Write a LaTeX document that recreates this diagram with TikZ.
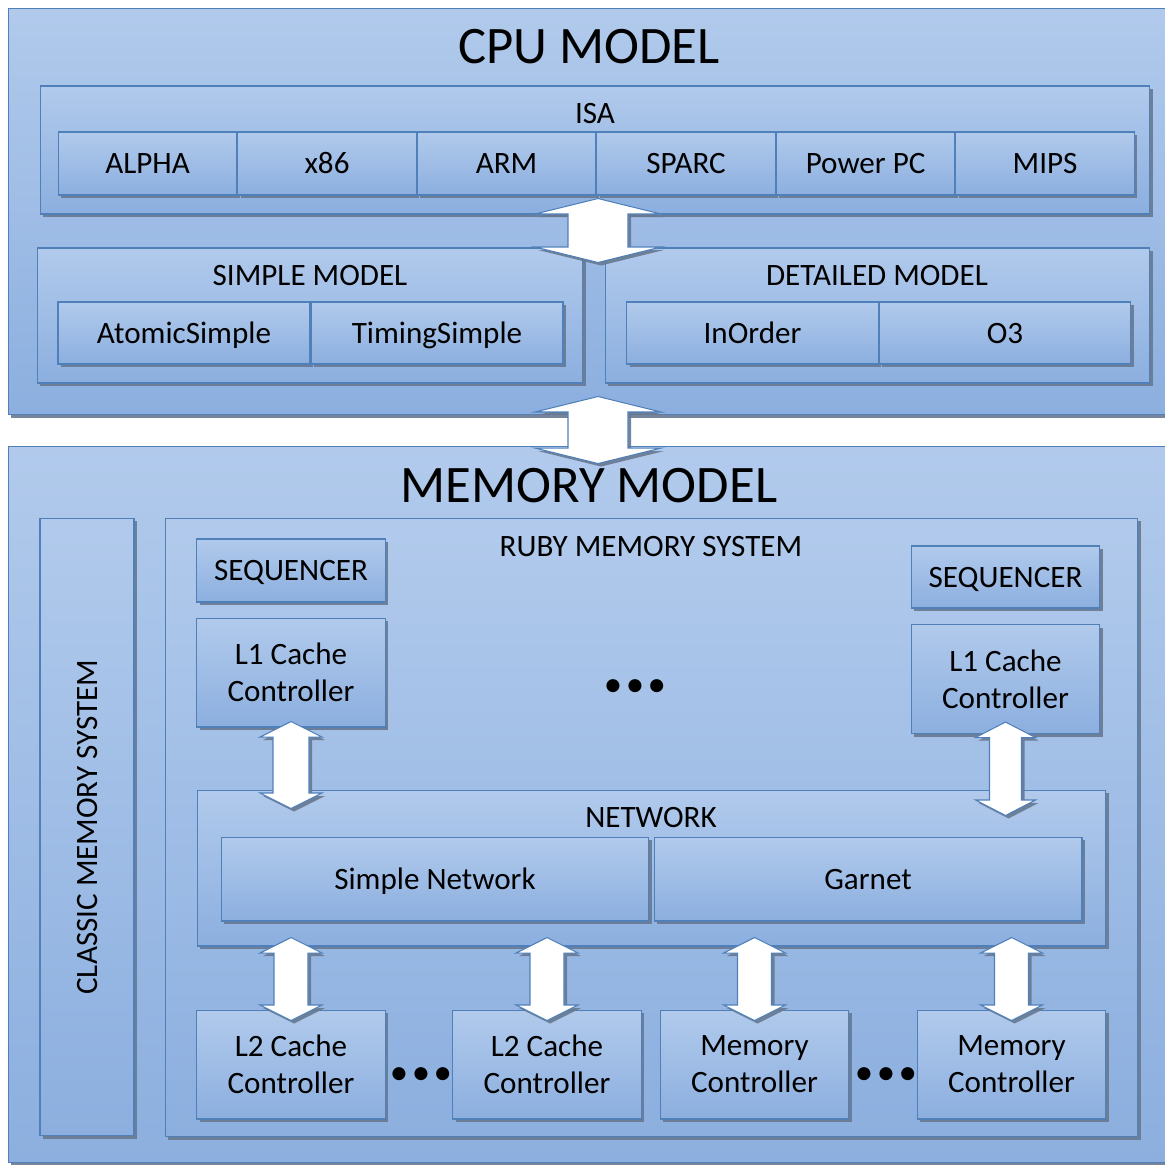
\documentclass[tikz,border=0pt]{standalone}
\usepackage{fontspec}
\setmainfont{Carlito}
\usepackage{tikz}
\usetikzlibrary{positioning,shadows,calc}

\definecolor{boxtop}{HTML}{B1CAEC}
\definecolor{boxbot}{HTML}{8CAFDF}
\definecolor{edge}{HTML}{5080BA}
\definecolor{shadowgray}{HTML}{687890}

\newcommand{\lblfont}{\fontsize{17.7}{21}\selectfont}
\newcommand{\bigfont}{\fontsize{30}{36}\selectfont}
\newcommand{\dotfont}{\fontsize{21}{24}\selectfont}
\newcommand{\threedots}{\textbullet\kern2pt\textbullet\kern2pt\textbullet}

%% fat white double arrow between two points: upper end, lower end, head half width, shaft half width
\newcommand{\dblarrow}[4]{%
  \draw[bigarrow] let \p1=(#1), \p2=(#2) in
    (\x1,\y1) -- (\x1+#3,\y1-0.31cm) -- (\x1+#4,\y1-0.31cm)
    -- (\x1+#4,\y2+0.31cm) -- (\x1+#3,\y2+0.31cm) -- (\x1,\y2)
    -- (\x1-#3,\y2+0.31cm) -- (\x1-#4,\y2+0.31cm)
    -- (\x1-#4,\y1-0.31cm) -- (\x1-#3,\y1-0.31cm) -- cycle;}

\begin{document}
\begin{tikzpicture}[x=0.02cm,y=-0.02cm,
  box/.style={draw=edge,line width=0.6pt,top color=boxtop,bottom color=boxbot,
    drop shadow={shadow xshift=0.06cm,shadow yshift=-0.06cm,fill=shadowgray,opacity=0.9}},
  frame/.style={box,inner sep=0pt},
  cell/.style={box,font=\lblfont,inner sep=0pt,text height=11.4pt,text depth=0pt},
  isacell/.style={cell,minimum width=3.57cm,minimum height=1.26cm},
  ctrl/.style={box,font=\lblfont,align=center,inner sep=0pt,minimum width=3.77cm,minimum height=2.18cm},
  title/.style={font=\lblfont,inner sep=0pt,text height=11.4pt,text depth=0pt},
  bigtitle/.style={font=\bigfont,inner sep=0pt,text height=19.3pt,text depth=0pt},
  dots/.style={font=\dotfont,inner sep=0pt},
  bigarrow/.style={fill=white,draw=edge,line width=0.6pt,
    drop shadow={shadow xshift=0.06cm,shadow yshift=-0.06cm,fill=shadowgray,opacity=0.9}}]

  \useasboundingbox[fill=white] (0,0) rectangle (1165,1164);

  %% cpu model
  \node[frame,minimum width=23.28cm,minimum height=8.14cm] (cpu) at (590,211.5) {};
  \node[bigtitle] (cputitle) at (589,47) {CPU MODEL};

  \node[frame,minimum width=22.2cm,minimum height=2.56cm] (isa) at (595,150) {};
  \node[title] (isatitle) at (595,113) {ISA};
  \node[isacell] (alpha) at (147.5,163.5) {ALPHA};
  \node[isacell] (x86) [right=0cm of alpha] {x86};
  \node[isacell] (arm) [right=0cm of x86] {ARM};
  \node[isacell] (sparc) [right=0cm of arm] {SPARC};
  \node[isacell] (ppc) [right=0cm of sparc] {Power PC};
  \node[isacell] (mips) [right=0cm of ppc] {MIPS};

  \node[frame,minimum width=10.92cm,minimum height=2.7cm] (simple) at (310,315.5) {};
  \node[title] (simpletitle) at (310,275) {SIMPLE MODEL};
  \node[cell,minimum width=5.04cm,minimum height=1.24cm] (atomic) at (184,333) {AtomicSimple};
  \node[cell,minimum width=5.04cm,minimum height=1.24cm] (timing) [right=0cm of atomic] {TimingSimple};

  \node[frame,minimum width=10.9cm,minimum height=2.7cm] (detailed) at (877.5,315.5) {};
  \node[title] (detailedtitle) at (877,275) {DETAILED MODEL};
  \node[cell,minimum width=5.03cm,minimum height=1.24cm] (inorder) at (752.5,333) {InOrder};
  \node[cell,minimum width=5.03cm,minimum height=1.24cm] (othree) [right=0cm of inorder] {O3};

  %% memory model
  \node[frame,minimum width=23.28cm,minimum height=14.34cm] (mem) at (590,804.5) {};
  \node[bigtitle] (memtitle) at (589,486) {MEMORY MODEL};

  \node[box,rotate=90,font=\lblfont,inner sep=0pt,text height=11.4pt,text depth=0pt,
    minimum width=12.36cm,minimum height=1.88cm] (classic) at (87,827) {CLASSIC MEMORY SYSTEM};

  \node[frame,minimum width=19.46cm,minimum height=12.38cm] (ruby) at (651.5,827.5) {};
  \node[title] (rubytitle) at (651,546) {RUBY MEMORY SYSTEM};

  \node[cell,minimum width=3.77cm,minimum height=1.26cm] (seqa) at (291,570.5) {SEQUENCER};
  \node[ctrl] (lonea) at (291,672.5) {L1 Cache\\Controller};
  \node[cell,minimum width=3.77cm,minimum height=1.24cm] (seqb) at (1005.5,577) {SEQUENCER};
  \node[ctrl] (loneb) at (1005.5,679) {L1 Cache\\Controller};
  \node[dots] (dotsa) at (635,688) {\threedots};

  \node[frame,minimum width=18.18cm,minimum height=3.12cm] (net) at (651.5,868) {};
  \node[title] (nettitle) at (651,817) {NETWORK};
  \node[cell,minimum width=8.56cm,minimum height=1.68cm] (simplenet) at (435,879) {Simple Network};
  \node[cell,minimum width=8.56cm,minimum height=1.68cm] (garnet) at (868,879) {Garnet};

  \node[ctrl] (ltwoa) at (291,1064.5) {L2 Cache\\Controller};
  \node[ctrl] (ltwob) at (547,1064.5) {L2 Cache\\Controller};
  \node[ctrl] (memca) at (754.5,1064.5) {Memory\\Controller};
  \node[ctrl] (memcb) at (1011.5,1064.5) {Memory\\Controller};
  \node[dots] (dotsb) at (421,1076) {\threedots};
  \node[dots] (dotsc) at (886,1076) {\threedots};

  %% connectors
  \dblarrow{$(isa.south)+(3,-16)$}{$(isa.south |- simple.north)+(3,15)$}{1.26cm}{0.6cm}
  \dblarrow{$(isa.south |- cpu.south)+(3,-19)$}{$(isa.south |- mem.north)+(3,18)$}{1.26cm}{0.6cm}
  \dblarrow{$(lonea.south)+(0,-6)$}{$(lonea.south |- net.north)+(0,19)$}{0.62cm}{0.36cm}
  \dblarrow{$(loneb.south)+(0,-12)$}{$(loneb.south |- net.north)+(0,26)$}{0.6cm}{0.32cm}
  \dblarrow{$(ltwoa.north |- net.south)+(0,-9)$}{$(ltwoa.north)+(0,11)$}{0.62cm}{0.34cm}
  \dblarrow{$(ltwob.north |- net.south)+(0,-9)$}{$(ltwob.north)+(0,11)$}{0.62cm}{0.34cm}
  \dblarrow{$(memca.north |- net.south)+(0,-9)$}{$(memca.north)+(0,11)$}{0.62cm}{0.34cm}
  \dblarrow{$(memcb.north |- net.south)+(0,-9)$}{$(memcb.north)+(0,11)$}{0.62cm}{0.34cm}
\end{tikzpicture}
\end{document}
